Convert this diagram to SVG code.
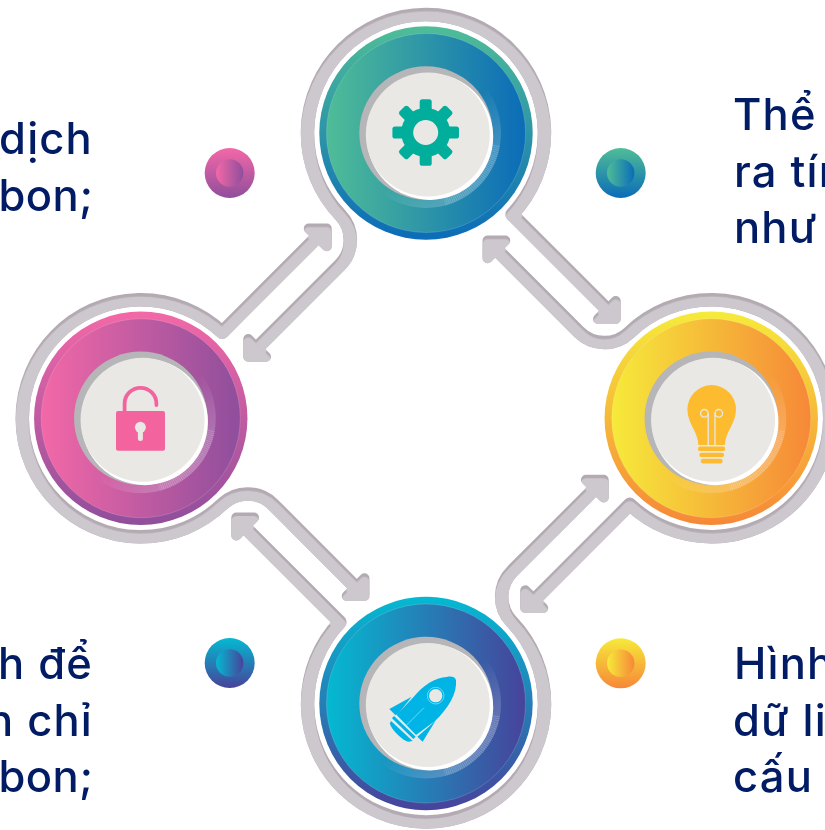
<svg xmlns="http://www.w3.org/2000/svg" width="825" height="830" viewBox="0 0 825 830">
<style>
.frame-line{fill:none;stroke:currentColor;stroke-width:13.5;stroke-linejoin:round}
.frame-head{fill:currentColor;stroke:currentColor;stroke-width:10;stroke-linejoin:round}
.label{font-family:"Inter","Noto Sans",sans-serif;font-size:43.5px;font-weight:500;letter-spacing:1.2px;fill:#011b65}
.end{text-anchor:end}
.tight{letter-spacing:.5px}
.rim{stroke:#fff;stroke-opacity:.25;stroke-width:.6}
.gear{fill:#00ae9b}
.pink{fill:#f3649f}
.bulb{fill:#fdbb30}
.fil{fill:none;stroke:#e9e8e5;stroke-width:1.3}
.rk{fill:#00b4e6}
.rkl{fill:none;stroke:#e9e8e5;stroke-width:1.6}
</style>
<defs>
<linearGradient id="gv1" x1="0" y1="0" x2="0" y2="1"><stop offset="0" stop-color="#4fbd97"/><stop offset="1" stop-color="#0b6cb8"/></linearGradient>
<linearGradient id="gh1"><stop offset="0" stop-color="#4fbd97"/><stop offset="1" stop-color="#0b6cb8"/></linearGradient>
<linearGradient id="gv2" x1="0" y1="0" x2="0" y2="1"><stop offset="0" stop-color="#f368a7"/><stop offset="1" stop-color="#8f4e9c"/></linearGradient>
<linearGradient id="gh2"><stop offset="0" stop-color="#f368a7"/><stop offset="1" stop-color="#8f4e9c"/></linearGradient>
<linearGradient id="gv3" x1="0" y1="0" x2="0" y2="1"><stop offset="0" stop-color="#f6ea3a"/><stop offset="1" stop-color="#f68838"/></linearGradient>
<linearGradient id="gh3"><stop offset="0" stop-color="#f6ea3a"/><stop offset="1" stop-color="#f68838"/></linearGradient>
<linearGradient id="gv4" x1="0" y1="0" x2="0" y2="1"><stop offset="0" stop-color="#04b9d2"/><stop offset="1" stop-color="#47439b"/></linearGradient>
<linearGradient id="gh4"><stop offset="0" stop-color="#04b9d2"/><stop offset="1" stop-color="#47439b"/></linearGradient>
<linearGradient id="sheen" x1="0" y1="0" x2="1" y2="1"><stop offset=".55" stop-color="#fff" stop-opacity="0"/><stop offset=".8" stop-color="#fff" stop-opacity=".2"/></linearGradient>
<g id="frame">
<path class="frame-line" d="M615.7,318L512.1,214.4A118.5,118.5 0 1 0 340.3,214.9A36,36 0 0 1 339.8,265.3L248.3,356.7"/>
<path class="frame-head" d="M598,319H615.7V301Z"/>
<path class="frame-head" d="M248.3,339V356.7H266Z"/>
</g>
<g id="loop">
<use href="#frame"/>
<use href="#frame" transform="rotate(90 426 418.25)"/>
<use href="#frame" transform="rotate(180 426 418.25)"/>
<use href="#frame" transform="rotate(270 426 418.25)"/>
</g>
<mask id="loopMask" maskUnits="userSpaceOnUse" x="0" y="0" width="825" height="830"><use href="#loop" color="#fff"/></mask>
<g id="hub">
<circle r="75" fill="url(#sheen)"/>
<path d="M69.9,12.3A71,71 0 0 1 18.4,68.6" fill="none" stroke="#fff" stroke-opacity=".18" stroke-width="8" stroke-dasharray="1 1"/>
<circle r="66.7" fill="#b6b5b7"/>
<circle cx="4" cy="3.7" r="63.2" fill="#fff"/>
<circle cx="1.8" cy="1.5" r="62" fill="#e9e8e5"/>
</g>
<rect id="tooth" x="-6" y="-33.3" width="12" height="14" rx="2.6"/>
</defs>

<g id="connectors">
<use href="#loop" color="#b3aab2"/>
<g mask="url(#loopMask)"><use href="#loop" transform="translate(0,3.5)" color="#cdc7ce"/></g>
</g>

<g id="node-top">
<circle cx="426" cy="133" r="106.7" fill="url(#gv1)"/>
<circle class="rim" cx="426" cy="133" r="99.5" fill="url(#gh1)"/>
<use href="#hub" x="426" y="133"/>
<g class="gear" transform="translate(425.7,132.5)">
<use href="#tooth"/><use href="#tooth" transform="rotate(45)"/><use href="#tooth" transform="rotate(90)"/><use href="#tooth" transform="rotate(135)"/><use href="#tooth" transform="rotate(180)"/><use href="#tooth" transform="rotate(225)"/><use href="#tooth" transform="rotate(270)"/><use href="#tooth" transform="rotate(315)"/>
<circle r="18.5" fill="none" stroke="#00ae9b" stroke-width="12"/>
</g>
</g>

<g id="node-left">
<circle cx="140.75" cy="418.25" r="106.7" fill="url(#gv2)"/>
<circle class="rim" cx="140.75" cy="418.25" r="99.5" fill="url(#gh2)"/>
<use href="#hub" x="140.75" y="418.25"/>
<path d="M124.6,412V403.7A15.8,15.8 0 0 1 156.4,403.7V405" fill="none" stroke="#f3649f" stroke-width="3.8" stroke-linecap="round"/>
<rect class="pink" x="116" y="411" width="49" height="39.7" rx="2"/>
<circle cx="140.4" cy="427.3" r="5.5" fill="#e9e8e5"/>
<path d="M140.4,428V438.5" stroke="#e9e8e5" stroke-width="5" stroke-linecap="round" fill="none"/>
</g>

<g id="node-right">
<circle cx="711.25" cy="418.25" r="106.7" fill="url(#gv3)"/>
<circle class="rim" cx="711.25" cy="418.25" r="99.5" fill="url(#gh3)"/>
<use href="#hub" x="711.25" y="418.25"/>
<path class="bulb" d="M698.3,445C698.3,432 687.4,424 687.4,409.3A24.3,24.3 0 0 1 736,409.3C736,424 725,432 725,445Z"/>
<rect class="bulb" x="698" y="446.5" width="27.2" height="4.6" rx="2.2"/>
<rect class="bulb" x="699.3" y="452.7" width="24.8" height="4.4" rx="2.2"/>
<rect class="bulb" x="700.8" y="458.8" width="21.8" height="4.8" rx="2.3"/>
<circle class="fil" cx="704.4" cy="413.3" r="3.8"/>
<circle class="fil" cx="718.8" cy="413.3" r="3.8"/>
<path class="fil" d="M708.2,413.3V445M715,413.3V445"/>
</g>

<g id="node-bottom">
<circle cx="426" cy="703.5" r="106.7" fill="url(#gv4)"/>
<circle class="rim" cx="426" cy="703.5" r="99.5" fill="url(#gh4)"/>
<use href="#hub" x="426" y="703.5"/>
<g transform="translate(380,665) scale(.3333)">
<path class="rk" d="M228,45C225,36 215,33 200,36C165,38 130,60 100,97L50,150L108,210L165,168C205,130 232,85 228,45Z"/>
<path class="rk" d="M28,132L95,95L54,148L46,150Z"/>
<path class="rk" d="M112,215L128,230L168,165L150,182Z"/>
<path class="rk" d="M42,153L107,215L100,222L36,160Z"/>
<path class="rk" d="M33,168L98,228L85,230C70,230 30,190 30,175Z"/>
<circle cx="167" cy="92" r="20" fill="#e9e8e5"/>
<circle class="rkl" cx="167" cy="92" r="25"/>
<path class="rkl" d="M132,128L80,180"/>
</g>
</g>

<g id="bullet-pink"><circle cx="229.7" cy="173" r="25" fill="url(#gv2)"/><circle cx="229.7" cy="173" r="13.7" fill="url(#gh2)"/></g>
<g id="bullet-green"><circle cx="620.7" cy="173" r="25" fill="url(#gv1)"/><circle cx="620.7" cy="173" r="13.7" fill="url(#gh1)"/></g>
<g id="bullet-blue"><circle cx="229.7" cy="663" r="25" fill="url(#gv4)"/><circle cx="229.7" cy="663" r="13.7" fill="url(#gh4)"/></g>
<g id="bullet-yellow"><circle cx="620.7" cy="663.3" r="25" fill="url(#gv3)"/><circle cx="620.7" cy="663.3" r="13.7" fill="url(#gh3)"/></g>

<g id="label-top-left">
<text class="label end" x="93" y="153.5">dịch</text>
<text class="label end tight" x="93.5" y="211">rbon;</text>
</g>
<g id="label-top-right">
<text class="label" x="733" y="130">Thể c</text>
<text class="label" x="734" y="186.7">ra tín</text>
<text class="label" x="734" y="243">như</text>
</g>
<g id="label-bottom-left">
<text class="label end" x="93" y="679.3">h để</text>
<text class="label end" x="93" y="736">n chỉ</text>
<text class="label end tight" x="93.5" y="791.7">rbon;</text>
</g>
<g id="label-bottom-right">
<text class="label" x="734" y="679.3">Hình</text>
<text class="label" x="733" y="736">dữ li</text>
<text class="label" x="733" y="791.7">cấu t</text>
</g>
</svg>
